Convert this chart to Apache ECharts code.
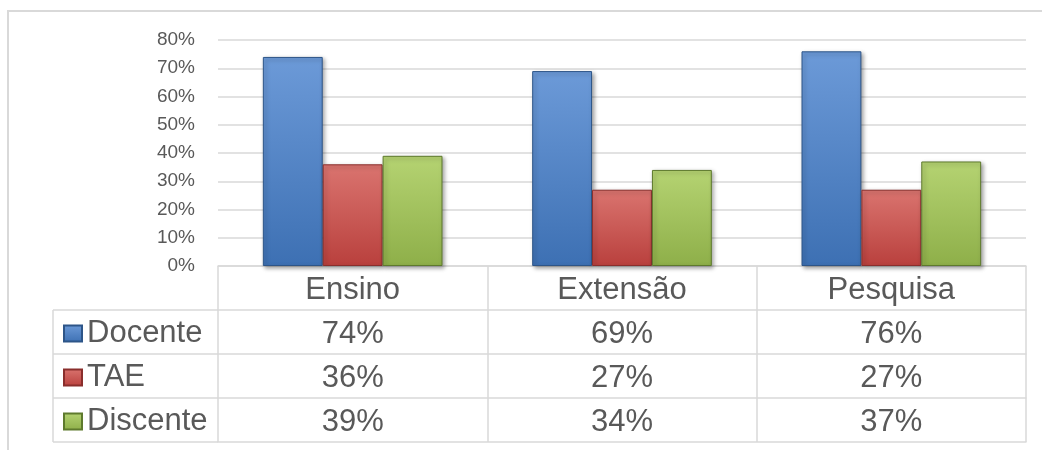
<!DOCTYPE html>
<html><head><meta charset="utf-8">
<script src="https://cdn.jsdelivr.net/npm/echarts@6/dist/echarts.min.js"></script>
<style>html,body{margin:0;padding:0;background:#fff}#c{width:1042px;height:450px}</style>
</head><body><div id="c"></div>
<script>
// ---- data ----
const categories = ['Ensino', 'Extensão', 'Pesquisa'];
const seriesNames = ['Docente', 'TAE', 'Discente'];
const docente = [0.74, 0.69, 0.76];
const tae = [0.36, 0.27, 0.27];
const discente = [0.39, 0.34, 0.37];
const yMin = 0, yMax = 0.8, yStep = 0.1;

// ---- layout / style ----
const W = 1042, H = 450;
const GL = 218, GR = 1026, GT = 40, GB = 266, ROW = 44, TL = 53;
const FONT = 'Liberation Sans';
const TXT = '#595959';
const LINE = '#d9d9d9';

function grad(top, bottom) {
  return new echarts.graphic.LinearGradient(0, 0, 0, 1, [
    { offset: 0, color: top }, { offset: 1, color: bottom }
  ]);
}
const styles = [
  { color: grad('#6c9ad8', '#3d70b3'), borderColor: '#2d5588' },
  { color: grad('#da746f', '#b9403d'), borderColor: '#8a2e2c' },
  { color: grad('#b5d372', '#8eaf49'), borderColor: '#5e7a2d' }
];
const rows = [docente, tae, discente];
const pct = v => Math.round(v * 100) + '%';

const tableLabel = { color: TXT, fontSize: 31, fontFamily: FONT, margin: 9, lineHeight: 31, interval: 0 };

const xAxes = [{
  type: 'category', data: categories, gridIndex: 0, position: 'bottom',
  axisLine: { show: true, lineStyle: { color: LINE, width: 1.5 } },
  axisTick: { show: true, inside: false, alignWithLabel: false, interval: 0, length: ROW * 4,
    lineStyle: { color: LINE, width: 1.5 } },
  axisLabel: Object.assign({}, tableLabel),
  splitLine: { show: false }
}];
rows.forEach((vals, i) => {
  xAxes.push({
    type: 'category', data: categories, gridIndex: 0, position: 'bottom', offset: ROW * (i + 1),
    axisLine: { show: true, lineStyle: { color: LINE, width: 1.5 } },
    axisTick: { show: false },
    axisLabel: Object.assign({}, tableLabel, { formatter: (v, idx) => pct(vals[idx]) }),
    splitLine: { show: false }
  });
});
xAxes.push({
  type: 'category', data: categories, gridIndex: 0, position: 'bottom', offset: ROW * 4,
  axisLine: { show: true, lineStyle: { color: LINE, width: 1.5 } },
  axisTick: { show: false }, axisLabel: { show: false }, splitLine: { show: false }
});

const graphicEls = [
  { type: 'rect', shape: { x: 8, y: 11, width: 1200, height: 600 }, style: { fill: null, stroke: LINE, lineWidth: 2 }, silent: true, z: -1 },
  { type: 'line', shape: { x1: TL, y1: GB + ROW, x2: TL, y2: GB + ROW * 4 }, style: { stroke: LINE, lineWidth: 1.5 }, silent: true }
];
for (let k = 1; k <= 4; k++) {
  graphicEls.push({ type: 'line', shape: { x1: TL, y1: GB + ROW * k, x2: GL, y2: GB + ROW * k },
    style: { stroke: LINE, lineWidth: 1.5 }, silent: true });
}

const chart = echarts.init(document.getElementById('c'), null, { renderer: 'canvas', width: W, height: H });
chart.setOption({
  backgroundColor: '#ffffff',
  animation: false,
  textStyle: { fontFamily: FONT },
  grid: { left: GL, right: W - GR, top: GT, bottom: H - GB, containLabel: false, outerBoundsMode: 'none' },
  legend: {
    orient: 'vertical', left: 63, top: 318, padding: 0, itemGap: 13, itemWidth: 18, itemHeight: 16, icon: 'rect',
    data: seriesNames,
    textStyle: { color: TXT, fontSize: 31, fontFamily: FONT, lineHeight: 31 },
    selectedMode: false
  },
  xAxis: xAxes,
  yAxis: {
    type: 'value', min: yMin, max: yMax, interval: yStep,
    axisLine: { show: false }, axisTick: { show: false },
    axisLabel: { color: TXT, fontSize: 19, fontFamily: FONT, margin: 23, formatter: v => pct(v) },
    splitLine: { show: true, lineStyle: { color: LINE, width: 1.5 } }
  },
  series: seriesNames.map((name, i) => ({
    name, type: 'bar', data: rows[i], xAxisIndex: 0, yAxisIndex: 0,
    barGap: '0%', barCategoryGap: '33.3%',
    itemStyle: Object.assign({ borderWidth: 1, shadowColor: 'rgba(0,0,0,0.35)', shadowBlur: 4,
      shadowOffsetX: 2, shadowOffsetY: 2 }, styles[i])
  })),
  graphic: graphicEls
});
</script></body></html>
